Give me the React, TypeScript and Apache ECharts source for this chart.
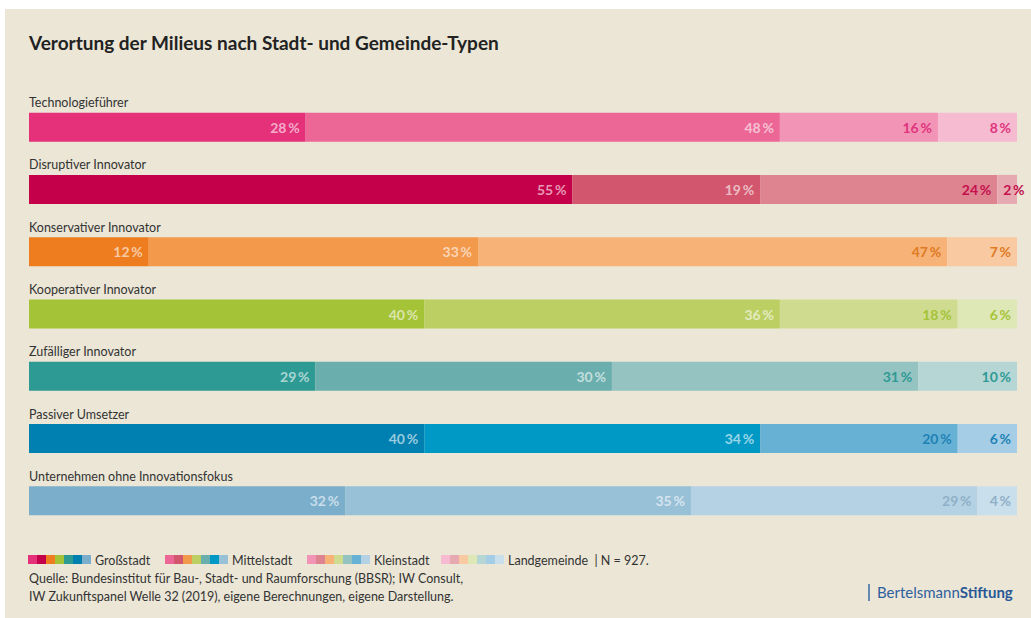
import React, { useEffect, useRef } from "react";
import * as echarts from "echarts";

const categories = [
  "Technologieführer",
  "Disruptiver Innovator",
  "Konservativer Innovator",
  "Kooperativer Innovator",
  "Zufälliger Innovator",
  "Passiver Umsetzer",
  "Unternehmen ohne Innovationsfokus",
];
const seriesNames = ["Großstadt", "Mittelstadt", "Kleinstadt", "Landgemeinde"];
const grossstadt = [28, 55, 12, 40, 29, 40, 32];
const mittelstadt = [48, 19, 33, 36, 30, 34, 35];
const kleinstadt = [16, 24, 47, 18, 31, 20, 29];
const landgemeinde = [8, 2, 7, 6, 10, 6, 4];
const values = [grossstadt, mittelstadt, kleinstadt, landgemeinde];

const rowColors = [
  ["#e5307a", "#ec6696", "#f294b6", "#f6bad1"],
  ["#c4004a", "#d2566d", "#de8390", "#e7a9b1"],
  ["#ee7d1f", "#f3994c", "#f6b277", "#f9c9a1"],
  ["#a5c337", "#bccf63", "#cfdc90", "#dee8b6"],
  ["#2e9a94", "#6aafad", "#95c3c2", "#b6d6d5"],
  ["#0080b0", "#0099c6", "#67b1d4", "#a5cde6"],
  ["#7aaecb", "#98c0d7", "#b5d2e4", "#cadfec"],
];
const rowLabelColors = ["#e0357d", "#c4114e", "#e07a22", "#a5c337", "#2e9a94", "#1f82b5", "#8fb0c8"];

const title = "Verortung der Milieus nach Stadt- und Gemeinde-Typen";
const sourceLines = [
  "Quelle: Bundesinstitut für Bau-, Stadt- und Raumforschung (BBSR); IW Consult,",
  "IW Zukunftspanel Welle 32 (2019), eigene Berechnungen, eigene Darstellung.",
];
const legendNote = "| N = 927.";

const FONT = "Lato, 'Noto Sans', sans-serif";

export default function App() {
  const ref = useRef<HTMLDivElement>(null);
  useEffect(() => {
    if (!ref.current) return;
    const chart = echarts.init(ref.current, null, { renderer: "svg" });
    const totals = categories.map((_, r) => values.reduce((s, arr) => s + arr[r], 0));

    const series = values.map((arr, si) => ({
      name: seriesNames[si],
      type: "bar",
      stack: "total",
      barWidth: 29,
      data: arr.map((v, r) => ({
        value: (v / totals[r]) * 100,
        itemStyle: { color: rowColors[r][si] },
        label: {
          show: true,
          position: v < 4 ? "insideLeft" : "insideRight",
          distance: 6,
          color: si < 2 ? "rgba(255,255,255,0.6)" : rowLabelColors[r],
        },
      })),
      label: {
        show: true,
        fontFamily: FONT,
        fontSize: 14,
        fontWeight: "bold",
        formatter: (p: any) => `${arr[p.dataIndex]}\u2009%`,
      },
    }));

    const legendGraphics: any[] = [];
    const legendX = [28, 165, 307, 441];
    seriesNames.forEach((name, si) => {
      categories.forEach((_, r) => {
        legendGraphics.push({
          type: "rect",
          shape: { x: legendX[si] + r * 9, y: 555, width: 9, height: 9 },
          style: { fill: rowColors[r][si] },
        });
      });
      legendGraphics.push({
        type: "text",
        x: legendX[si] + 67,
        y: 560,
        style: {
          text: si === 3 ? `${name}  ${legendNote}` : name,
          fontFamily: FONT,
          fontSize: 12.5,
          fill: "#333",
          verticalAlign: "middle",
        },
      });
    });

    chart.setOption({
      animation: false,
      backgroundColor: "#ffffff",
      grid: { left: 29, right: 14, top: 96, height: 436 },
      xAxis: { type: "value", min: 0, max: 100, show: false },
      yAxis: {
        type: "category",
        inverse: true,
        data: categories,
        axisLine: { show: false },
        axisTick: { show: false },
        splitLine: { show: false },
        axisLabel: {
          inside: true,
          margin: 0,
          align: "left",
          verticalAlign: "bottom",
          padding: [0, 0, 18, 0],
          fontFamily: FONT,
          fontSize: 12.5,
          color: "#333",
        },
      },
      series,
      graphic: [
        {
          type: "rect",
          z: -10,
          shape: { x: 5, y: 9, width: 1026, height: 609 },
          style: { fill: "#ebe6d6" },
        },
        {
          type: "text",
          x: 29,
          y: 42,
          style: {
            text: title,
            fontFamily: FONT,
            fontSize: 19,
            fontWeight: "bold",
            fill: "#222",
            verticalAlign: "middle",
          },
        },
        ...legendGraphics,
        ...sourceLines.map((t, i) => ({
          type: "text",
          x: 29,
          y: 578 + i * 18,
          style: { text: t, fontFamily: FONT, fontSize: 12.5, fill: "#333", verticalAlign: "middle" },
        })),
        {
          type: "line",
          shape: { x1: 869, y1: 584, x2: 869, y2: 601 },
          style: { stroke: "#3a6aa6", lineWidth: 1.5 },
        },
        {
          type: "text",
          x: 877,
          y: 592,
          style: {
            text: "{a|Bertelsmann}{b|Stiftung}",
            verticalAlign: "middle",
            rich: {
              a: { fontFamily: FONT, fontSize: 15, fill: "#2f609e", color: "#2f609e" },
              b: { fontFamily: FONT, fontSize: 15, fontWeight: "bold", fill: "#2a5896", color: "#2a5896" },
            },
          },
        },
      ],
    });
    return () => chart.dispose();
  }, []);
  return (
    <div
      ref={ref}
      style={{ position: "fixed", left: 0, top: 0, width: 1031, height: 618 }}
    />
  );
}
